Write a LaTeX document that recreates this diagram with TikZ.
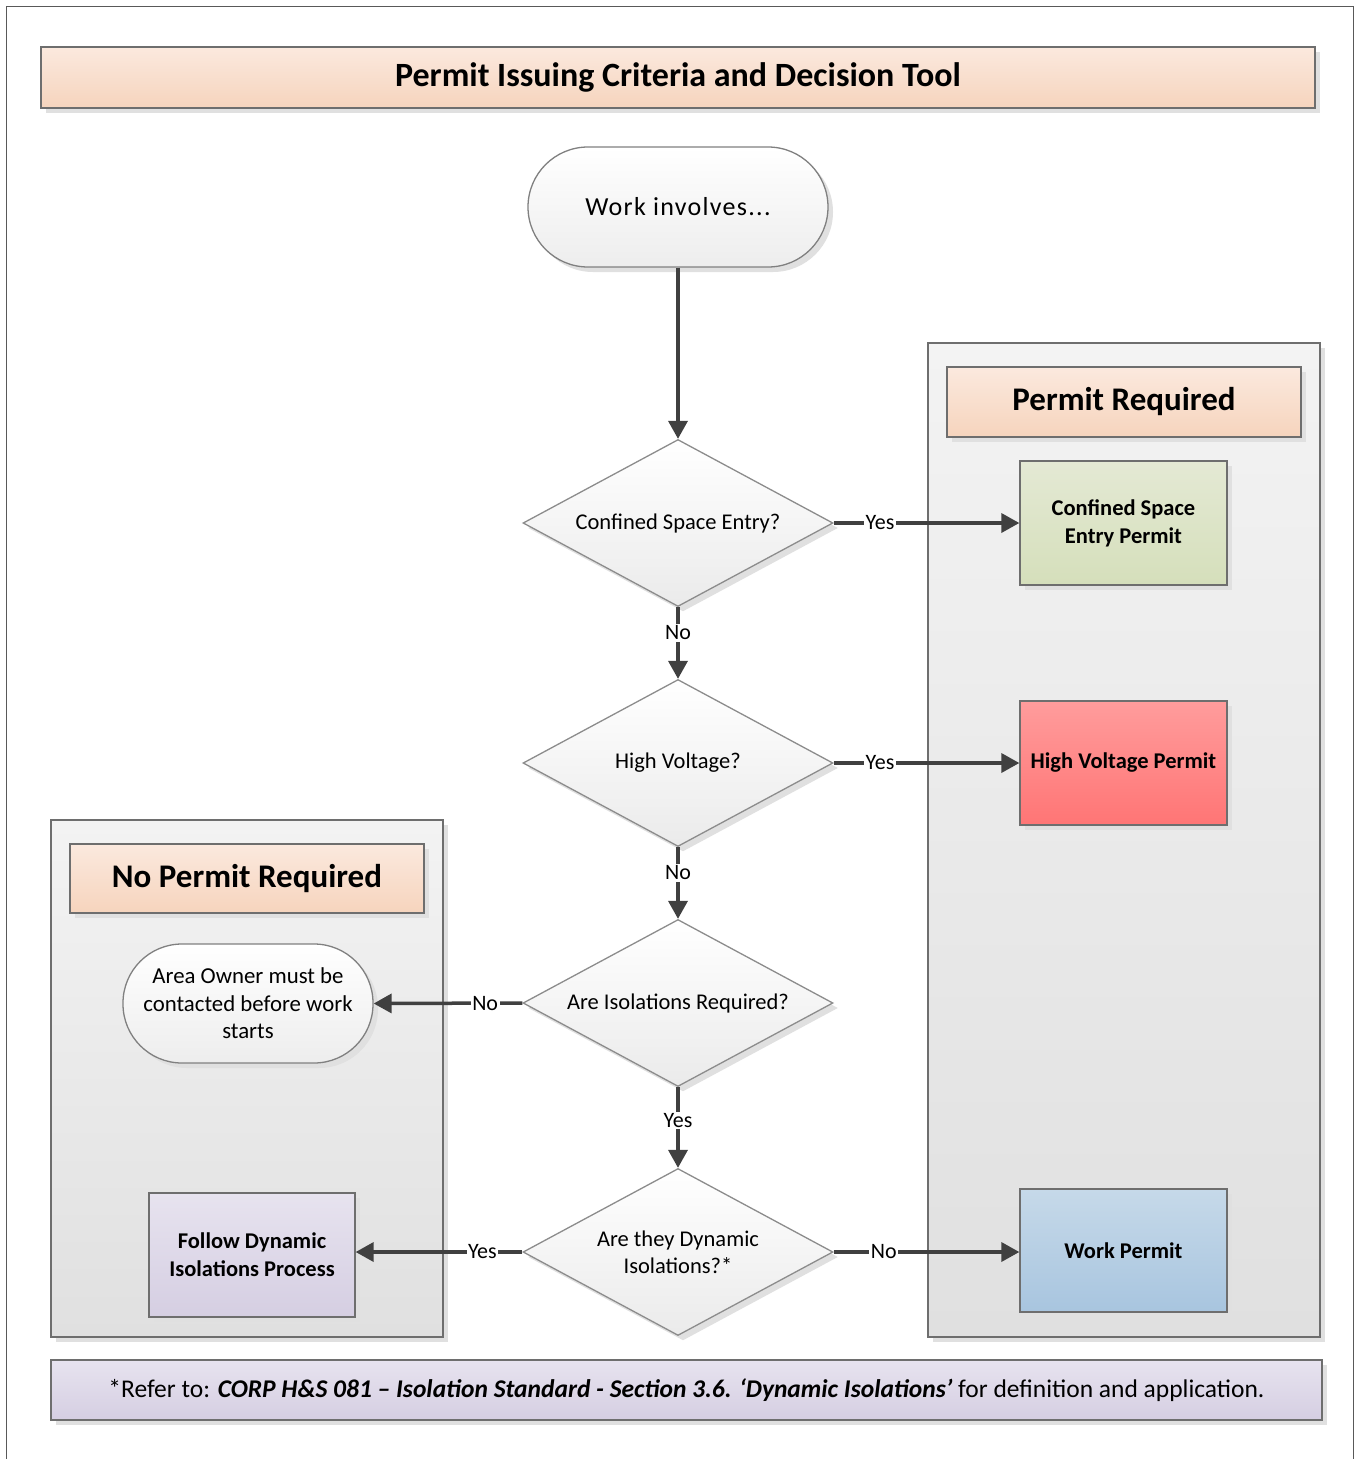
\documentclass[tikz,border=0pt]{standalone}
\usepackage{fontspec}
\setmainfont{Carlito}
\usetikzlibrary{shapes.geometric,arrows.meta,shadows}
\definecolor{peachT}{HTML}{FBE9DE}
\definecolor{peachB}{HTML}{F6D4BD}
\definecolor{greenT}{HTML}{E4E9D4}
\definecolor{greenB}{HTML}{D5DFBB}
\definecolor{redT}{HTML}{FF9C9C}
\definecolor{redB}{HTML}{FF7575}
\definecolor{blueT}{HTML}{C6D9E9}
\definecolor{blueB}{HTML}{A8C5DF}
\definecolor{lavT}{HTML}{E7E3EF}
\definecolor{lavB}{HTML}{D5CEE2}
\definecolor{panT}{HTML}{F3F3F3}
\definecolor{panB}{HTML}{E0E0E0}
\definecolor{edge}{HTML}{6E6E6E}
\definecolor{arrowc}{HTML}{404040}
\begin{document}
\begin{tikzpicture}[x=1pt,y=-1pt,
  shad/.style={drop shadow={shadow xshift=5pt,shadow yshift=-5pt,fill=black!12,opacity=1}},
  base/.style={draw=edge,line width=1.3pt,inner sep=0pt,align=center,text=black},
  panel/.style={base,top color=panT,bottom color=panB,shad},
  header/.style={base,top color=peachT,bottom color=peachB,shad,font=\fontsize{33}{38}\selectfont\bfseries},
  permit/.style={base,shad,font=\fontsize{22.5}{28}\selectfont\bfseries,minimum width=207pt,minimum height=124pt},
  term/.style={base,draw=black!50,top color=white,bottom color=black!7,shad},
  decision/.style={diamond,shape aspect=1.856,base,draw=black!45,top color=white,bottom color=black!8,shad,minimum width=310pt,minimum height=167pt,font=\fontsize{22.5}{27}\selectfont},
  arr/.style={draw=arrowc,line width=3.5pt,-{Triangle[length=18pt,width=19pt]}},
  lbl/.style={fill=white,inner sep=1.5pt,text=black,font=\fontsize{22}{26}\selectfont}
]
\useasboundingbox (0,0) rectangle (1360,1459);
\fill[white] (0,0) rectangle (1360,1459);
\draw[black!65,line width=1.2pt] (6.5,1470) -- (6.5,6.5) -- (1353.5,6.5) -- (1353.5,1470);

% panels
\node[panel,minimum width=392pt,minimum height=994pt] (rpanel) at (1124,840) {};
\node[panel,minimum width=392pt,minimum height=517pt] (lpanel) at (247,1078.5) {};

% headers
\node[header,minimum width=1274pt,minimum height=61pt,font=\fontsize{34}{40}\selectfont\bfseries] (title) at (678,77.5) {Permit Issuing Criteria and Decision Tool};
\node[header,minimum width=354pt,minimum height=70pt] (preq) at (1124,402) {Permit Required};
\node[header,minimum width=354pt,minimum height=69pt] (npr) at (247,878.5) {No Permit Required};

% terminals
\node[term,minimum width=300pt,minimum height=120pt,rounded corners=60pt,font=\fontsize{26}{30}\selectfont\addfontfeature{LetterSpace=5}] (start) at (678,207) {Work involves...};
\node[term,minimum width=250pt,minimum height=119pt,rounded corners=59pt,font=\fontsize{22.8}{27.5}\selectfont] (area) at (248,1003.5) {Area Owner must be\\contacted before work\\starts};

% decisions
\node[decision] (d1) at (678,523) {Confined Space Entry?};
\node[decision] (d2) at (678,763) {High Voltage?};
\node[decision] (d3) at (678,1003) {Are Isolations Required?};
\node[decision] (d4) at (678,1252) {Are they Dynamic\\Isolations?*};

% permits
\node[permit,top color=greenT,bottom color=greenB] (cse) at (1123.5,523) {Confined Space\\Entry Permit};
\node[permit,top color=redT,bottom color=redB] (hv) at (1123.5,763) {High Voltage Permit};
\node[permit,top color=blueT,bottom color=blueB,minimum height=123pt] (wp) at (1123.5,1250.5) {Work Permit};
\node[permit,top color=lavT,bottom color=lavB,minimum width=206pt] (fdi) at (252,1255) {Follow Dynamic\\Isolations Process};

% footer
\node[base,top color=lavT,bottom color=lavB,shad,minimum width=1271pt,minimum height=60pt,font=\fontsize{25.5}{30}\selectfont] (foot) at (686.5,1390)
  {*Refer to: \textbf{\textit{CORP H\&S 081 – Isolation Standard - Section 3.6. ‘Dynamic Isolations’}} for definition and application.};

% connectors
\draw[arr] (start.south) -- (d1.north);
\draw[arr] (d1.east) -- node[lbl,pos=0.25] {Yes} (cse.west);
\draw[arr] (d1.south) -- node[lbl,pos=0.36] {No} (d2.north);
\draw[arr] (d2.east) -- node[lbl,pos=0.25] {Yes} (hv.west);
\draw[arr] (d2.south) -- node[lbl,pos=0.36] {No} (d3.north);
\draw[arr] (d3.west) -- node[lbl,pos=0.25] {No} (area.east);
\draw[arr] (d3.south) -- node[lbl,pos=0.41] {Yes} (d4.north);
\draw[arr] (d4.west) -- node[lbl,pos=0.24] {Yes} (d4.west -| fdi.east);
\draw[arr] (d4.east) -- node[lbl,pos=0.27] {No} (d4.east -| wp.west);
\end{tikzpicture}
\end{document}
